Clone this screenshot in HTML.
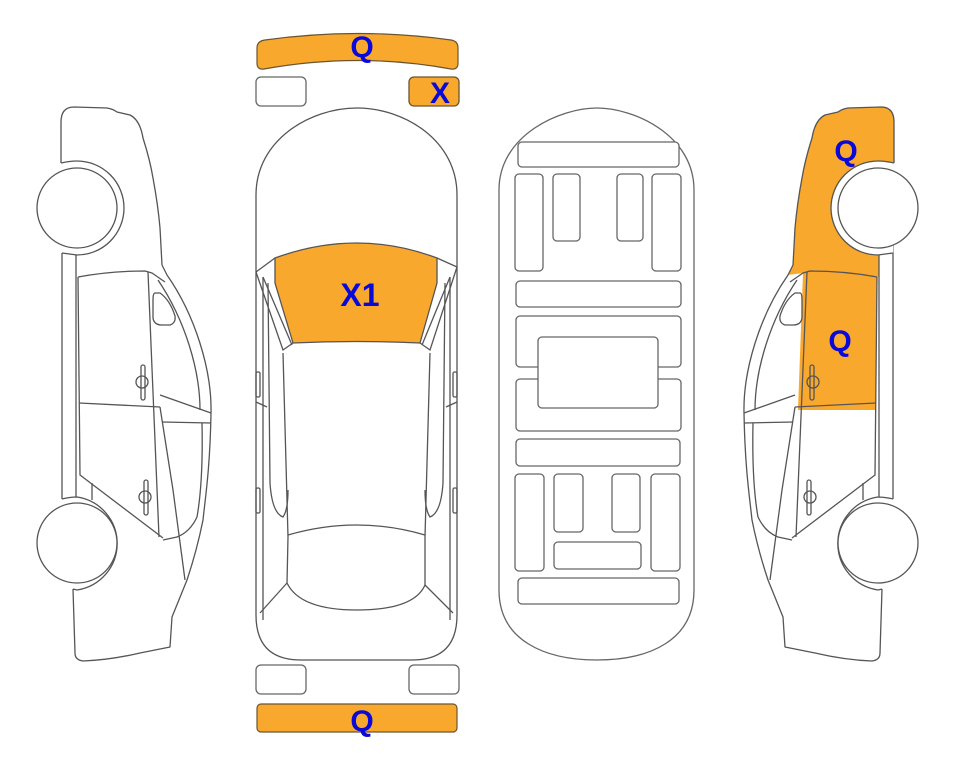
<!DOCTYPE html>
<html><head><meta charset="utf-8"><style>
html,body{margin:0;padding:0;background:#fff;}
svg{display:block;}
text{font-family:"Liberation Sans",sans-serif;font-weight:bold;fill:#0a0ad8;}
</style></head><body>
<svg width="963" height="768" viewBox="0 0 963 768" xmlns="http://www.w3.org/2000/svg">
<defs>
<g id="side" fill="none" stroke="#555" stroke-width="1.3" stroke-linejoin="round">
  <!-- outline -->
  <path d="M61,163 L61,122 Q61,107 74,107 L107,108 Q113,109 117,112 L130,115 Q140,120 143,138 Q150,160 153,178 Q158,205 160,228 L162,265 L167,275 C195,315 212,370 211,413 C210,470 205,500 203,520 C198,545 192,565 187,580 L172,617 L170,647 L140,653 Q110,660 83,661 Q75,660 75,653 L73,589"/>
  <!-- rocker -->
  <path d="M62,253 L62,499 M76,253 L76,499"/>
  <!-- door top & front edge -->
  <path d="M78,277 Q110,271 145,271 L152,273 L165,282"/>
  <path d="M78,277 L80,475 L163,538"/>
  <path d="M148,272 L159,537"/>
  <!-- divider -->
  <path d="M79,403 L160,407"/>
  <!-- inner window curve -->
  <path d="M158,280 C185,320 200,370 200,410 M202,423 C203,470 200,500 197,517 Q190,532 177,537 L163,540"/>
  <!-- strip lines -->
  <path d="M160,395 L211,413 M162,422 L211,423"/>
  <!-- crossing line -->
  <path d="M160,407 L173,490 L185,580"/>
  <path d="M92,483 L92,500"/>
  <!-- mirror -->
  <path d="M155,293 Q153,293 153,300 L153,318 Q154,325 162,325 L170,325 Q176,323 175,316 Q170,300 160,293 Z" fill="#fff"/>
  <!-- handles -->
  <rect x="141" y="365" width="4" height="35" rx="2"/>
  <circle cx="142" cy="382" r="6"/>
  <rect x="144" y="480" width="4" height="35" rx="2"/>
  <circle cx="145" cy="497" r="6"/>
  <!-- wheels -->
  <path d="M61,163 Q70,161 77,161 A47,47 0 0 1 77,255 L62,253" fill="#fff"/>
  <circle cx="77" cy="208" r="40" fill="#fff"/>
  <path d="M62,499 Q70,497 77,497 A47,47 0 0 1 77,590 L73,589" fill="#fff"/>
  <circle cx="77" cy="543" r="40" fill="#fff"/>
</g>
</defs>

<!-- left car -->
<use href="#side"/>

<!-- right car: mirrored with orange -->
<g transform="translate(955,0) scale(-1,1)">
  <path d="M61,163 L61,122 Q61,107 74,107 L107,108 Q113,109 117,112 L130,115 Q140,120 143,138 Q150,160 153,178 Q158,205 160,228 L162,265 L167,275 L152,273 L145,271 Q110,271 78,277 L76,277 L76,253 L61,253 Z" fill="#f9a82e"/>
  <path d="M78,277 Q110,271 145,271 L152,273 L157,410 L79,410 Z" fill="#f9a82e"/>
  <use href="#side"/>
</g>

<!-- top bumper -->
<path d="M257,48 Q257,41 265,40 Q358,27 451,40 Q458,41 458,48 L458,63 Q458,70 451,69 Q358,52 264,69 Q257,70 257,63 Z" fill="#f9a82e" stroke="#6b5530" stroke-width="1.2"/>
<rect x="256" y="77" width="50" height="29" rx="5" fill="#fff" stroke="#666" stroke-width="1.3"/>
<rect x="409" y="77" width="50" height="29" rx="5" fill="#f9a82e" stroke="#6b5530" stroke-width="1.3"/>
<rect x="256" y="665" width="50" height="29" rx="5" fill="#fff" stroke="#666" stroke-width="1.3"/>
<rect x="409" y="665" width="50" height="29" rx="5" fill="#fff" stroke="#666" stroke-width="1.3"/>
<rect x="257" y="704" width="200" height="28" rx="4" fill="#f9a82e" stroke="#6b5530" stroke-width="1.2"/>

<!-- top view body -->
<g fill="none" stroke="#555" stroke-width="1.3">
  <path d="M256,195 C256,140 310,108 357,108 C404,108 457,140 457,195 L457,615 Q457,660 412,660 L301,660 Q256,660 256,615 Z"/>
  <path d="M275,258 Q357,228 437,258 L437,283 L420,343 Q357,340 293,343 L275,283 Z" fill="#f9a82e"/>
  <path d="M256,272 L275,258 M457,267 L437,258"/>
  <path d="M256,272 L283,350 L293,343 M263,277 L292,345"/>
  <path d="M457,267 L430,350 L420,343 M450,277 L422,345"/>
  <path d="M283,353 L288,537 M430,353 L425,537"/>
  <path d="M263,277 L263,620 M450,277 L450,620"/>
  <path d="M268,283 L270,483 Q272,513 283,517 Q288,510 288,490"/>
  <path d="M445,283 L443,483 Q441,513 430,517 Q425,510 425,490"/>
  <path d="M288,535 Q357,515 425,535"/>
  <path d="M287,583 Q300,610 357,610 Q414,610 425,585"/>
  <path d="M260,613 L287,583 M453,613 L425,585"/>
  <path d="M288,537 L287,583 M425,537 L425,585"/>
  <path d="M256,402 L267,407 M457,402 L446,407"/>
  <rect x="256" y="372" width="4" height="25" rx="1.5"/>
  <rect x="256" y="488" width="4" height="25" rx="1.5"/>
  <rect x="453" y="372" width="4" height="25" rx="1.5"/>
  <rect x="453" y="488" width="4" height="25" rx="1.5"/>
</g>

<!-- underside -->
<g fill="#fff" stroke="#666" stroke-width="1.3">
  <path d="M499,190 C499,135 560,108 597,108 C634,108 694,135 694,190 L694,590 C694,640 650,660 597,660 C544,660 499,640 499,590 Z"/>
  <rect x="518" y="142" width="161" height="25" rx="4"/>
  <rect x="515" y="174" width="28" height="97" rx="4"/>
  <rect x="553" y="174" width="27" height="67" rx="4"/>
  <rect x="617" y="174" width="26" height="67" rx="4"/>
  <rect x="652" y="174" width="29" height="97" rx="4"/>
  <rect x="516" y="281" width="165" height="26" rx="4"/>
  <rect x="516" y="316" width="165" height="51" rx="4"/>
  <rect x="516" y="379" width="165" height="52" rx="4"/>
  <rect x="538" y="337" width="120" height="71" rx="4"/>
  <rect x="516" y="439" width="164" height="27" rx="4"/>
  <rect x="515" y="474" width="29" height="97" rx="4"/>
  <rect x="554" y="474" width="29" height="58" rx="4"/>
  <rect x="612" y="474" width="28" height="58" rx="4"/>
  <rect x="651" y="474" width="29" height="97" rx="4"/>
  <rect x="554" y="542" width="87" height="27" rx="4"/>
  <rect x="518" y="578" width="161" height="26" rx="4"/>
</g>

<!-- labels -->
<text x="362" y="57" font-size="30" text-anchor="middle">Q</text>
<text x="440" y="103" font-size="30" text-anchor="middle">X</text>
<text x="360" y="306" font-size="32" text-anchor="middle">X1</text>
<text x="362" y="731" font-size="30" text-anchor="middle">Q</text>
<text x="846" y="161" font-size="30" text-anchor="middle">Q</text>
<text x="840" y="351" font-size="30" text-anchor="middle">Q</text>
</svg>
</body></html>
